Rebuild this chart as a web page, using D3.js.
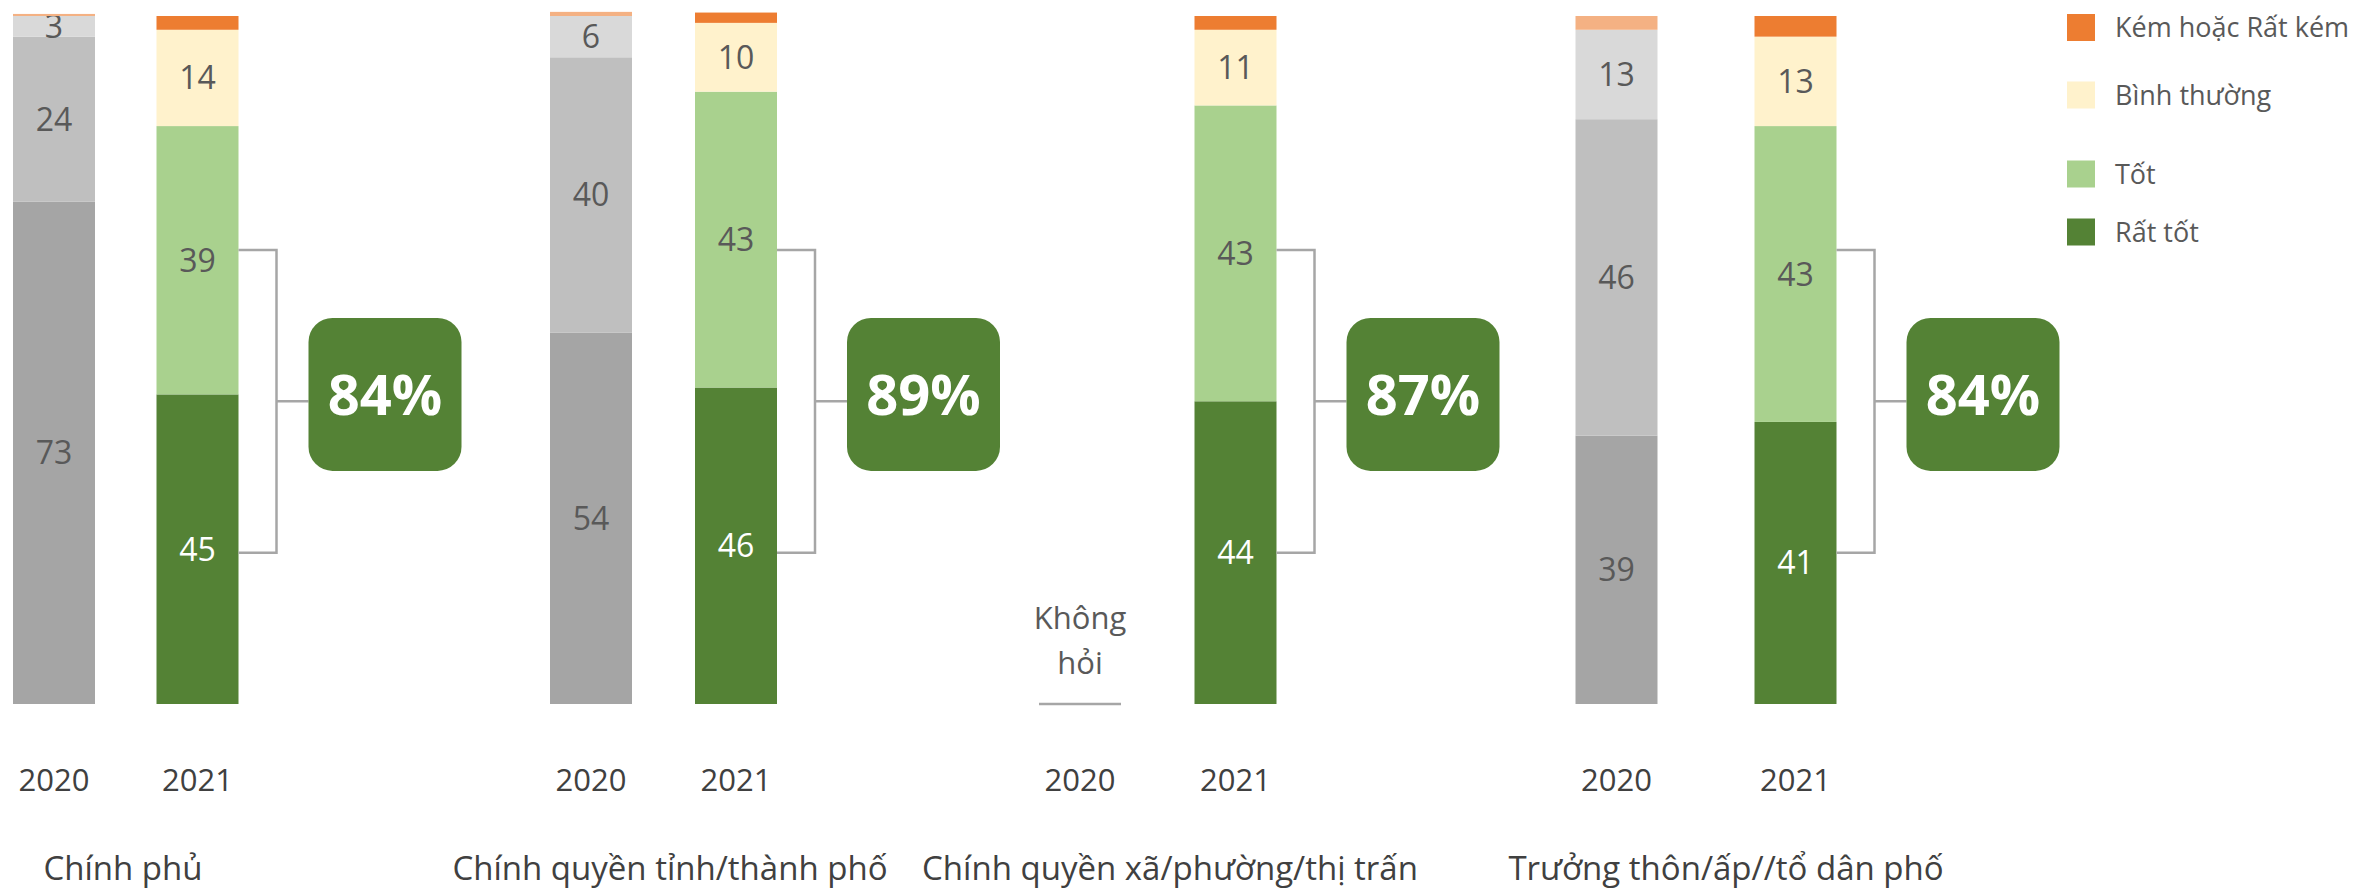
<!DOCTYPE html>
<html lang="vi">

<head>
    <meta charset="UTF-8">
    <script src="https://d3js.org/d3.v7.min.js"></script>
    <title>Đánh giá chính quyền</title>
    <style>
        body {
            margin: 0;
            background: white;
        }

        text {
            font-family: "Open Sans", sans-serif;
        }
    </style>
</head>

<body>
    <div id="chart"></div>
    <script>
        /*------------------- data --------------------*/
        const panels = ["Chính phủ", "Chính quyền tỉnh/thành phố", "Chính quyền xã/phường/thị trấn", "Trưởng thôn/ấp//tổ dân phố"];
        const years = ["2020", "2021"];
        // bottom -> top of each bar
        const levels = ["Rất tốt", "Tốt", "Bình thường", "Kém hoặc Rất kém"];

        // [2020, 2021] for each panel, null = not asked
        const ratTot = [[73, 45], [54, 46], [null, 44], [39, 41]];
        const tot = [[24, 39], [40, 43], [null, 43], [46, 43]];
        const binhThuong = [[3, 14], [6, 10], [null, 11], [13, 13]];
        const kem = [[0.3, 2], [0.6, 1.5], [null, 2], [2, 3]];
        const totalGood = [84, 89, 87, 84];   // Rất tốt + Tốt, 2021
        const notAsked = ["Không", "hỏi"];

        /*------------------- layout --------------------*/
        const width = 2359, height = 889;
        const barW = 82;
        const panelCenters = [[54, 197.5], [591, 736], [1080, 1235.5], [1616.5, 1795.5]];
        const panelLabelX = [123, 670, 1170, 1726];
        const legendY = [27.5, 95, 174, 232];

        const colors2021 = ["#548235", "#A9D18E", "#FFF2CC", "#ED7D31"];
        const colors2020 = ["#A5A5A5", "#BFBFBF", "#D9D9D9", "#F4B183"];

        const y = d3.scaleLinear().domain([0, 100]).range([704, 16]);

        const svg = d3.select("#chart").append("svg")
            .attr("width", width)
            .attr("height", height);

        // build one row per bar
        const series = [ratTot, tot, binhThuong, kem];
        const rows = [];
        panels.forEach((p, i) => {
            years.forEach((yr, j) => {
                if (ratTot[i][j] == null) return;
                const row = { panel: i, year: yr, yi: j };
                levels.forEach((lv, k) => row[lv] = series[k][i][j]);
                rows.push(row);
            });
        });

        const stacked = d3.stack().keys(levels)(rows);

        panels.forEach((p, i) => {
            const x = d3.scaleOrdinal().domain(years).range(panelCenters[i]);
            const g = svg.append("g");

            stacked.forEach((layer, k) => {
                const segs = layer.filter(d => d.data.panel === i);
                g.selectAll(null)
                    .data(segs)
                    .enter()
                    .append("rect")
                    .attr("x", d => x(d.data.year) - barW / 2)
                    .attr("width", barW)
                    .attr("y", d => y(d[1]))
                    .attr("height", d => y(d[0]) - y(d[1]))
                    .attr("fill", d => d.data.yi === 0 ? colors2020[k] : colors2021[k]);

                // value labels (not for the thin orange cap)
                if (k < 3) {
                    g.selectAll(null)
                        .data(segs)
                        .enter()
                        .append("text")
                        .attr("x", d => x(d.data.year))
                        .attr("y", d => (y(d[0]) + y(d[1])) / 2)
                        .attr("dy", "0.36em")
                        .attr("text-anchor", "middle")
                        .attr("font-size", 32)
                        .attr("fill", d => (k === 0 && d.data.yi === 1) ? "white" : "#595959")
                        .text(d => d.data[levels[k]]);
                }
            });

            // "Không hỏi" placeholder
            if (ratTot[i][0] == null) {
                g.selectAll(null)
                    .data(notAsked)
                    .enter()
                    .append("text")
                    .attr("x", x("2020"))
                    .attr("y", (d, n) => 629 + n * 45)
                    .attr("text-anchor", "middle")
                    .attr("font-size", 31)
                    .attr("fill", "#595959")
                    .text(d => d);
                g.append("line")
                    .attr("x1", x("2020") - barW / 2)
                    .attr("x2", x("2020") + barW / 2)
                    .attr("y1", y(0))
                    .attr("y2", y(0))
                    .attr("stroke", "#A6A6A6")
                    .attr("stroke-width", 2.5);
            }

            // year labels
            g.selectAll(null)
                .data(years)
                .enter()
                .append("text")
                .attr("x", d => x(d))
                .attr("y", 791)
                .attr("text-anchor", "middle")
                .attr("font-size", 31)
                .attr("fill", "#404040")
                .text(d => d);

            // panel label
            g.append("text")
                .attr("x", panelLabelX[i])
                .attr("y", 880)
                .attr("text-anchor", "middle")
                .attr("font-size", 33)
                .attr("fill", "#404040")
                .text(p);

            // bracket + share box
            const bx = x("2021") + barW / 2;
            const vx = bx + 38;
            const yTop = y(66), yBot = y(22), yMid = y(44);
            g.append("path")
                .attr("d", `M${bx},${yTop}H${vx}V${yBot}H${bx}M${vx},${yMid}H${bx + 70}`)
                .attr("fill", "none")
                .attr("stroke", "#A6A6A6")
                .attr("stroke-width", 2.5);

            const boxSize = 153;
            g.append("rect")
                .attr("x", bx + 70)
                .attr("y", y(45) - boxSize / 2)
                .attr("width", boxSize)
                .attr("height", boxSize)
                .attr("rx", 24)
                .attr("fill", "#548235");
            g.append("text")
                .attr("x", bx + 70 + boxSize / 2)
                .attr("y", y(45))
                .attr("dy", "0.36em")
                .attr("text-anchor", "middle")
                .attr("font-size", 56)
                .attr("font-weight", "bold")
                .attr("fill", "white")
                .text(totalGood[i] + "%");
        });

        /*------------------- legend --------------------*/
        const legendItems = levels.slice().reverse();
        const legendColors = colors2021.slice().reverse();
        const legend = svg.append("g");
        legend.selectAll("rect")
            .data(legendItems)
            .enter()
            .append("rect")
            .attr("x", 2067)
            .attr("y", (d, i) => legendY[i] - 13.5)
            .attr("width", 28)
            .attr("height", 27)
            .attr("fill", (d, i) => legendColors[i]);
        legend.selectAll("text")
            .data(legendItems)
            .enter()
            .append("text")
            .attr("x", 2115)
            .attr("y", (d, i) => legendY[i])
            .attr("dy", "0.36em")
            .attr("font-size", 27)
            .attr("fill", "#595959")
            .text(d => d);
    </script>
</body>

</html>
